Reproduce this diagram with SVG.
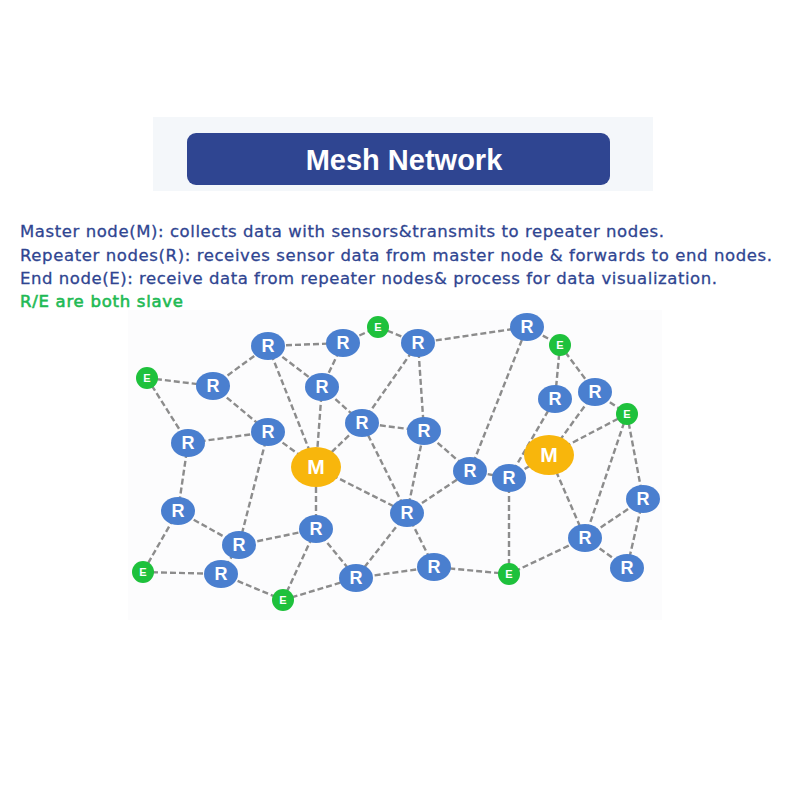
<svg xmlns="http://www.w3.org/2000/svg" width="800" height="800" viewBox="0 0 800 800">
<style>
.bg{fill:#ffffff}
.hdrbg{fill:#f4f7fa}
.hdr{fill:#2f4591}
.title{font-family:"Liberation Sans",Arial,sans-serif;font-weight:bold;font-size:29px;fill:#ffffff}
.desc{font-family:"DejaVu Sans","Liberation Sans",sans-serif;font-size:16.5px;fill:#2f4591;stroke:#2f4591;stroke-width:0.3}
.green{fill:#1fba55;stroke:#1fba55;stroke-width:0.6}
.e{stroke:#8c8c8c;stroke-width:2.4;stroke-dasharray:6 3;fill:none}
.R ellipse{fill:#4a7fcf}
.E circle{fill:#1ec13c}
.M ellipse{fill:#f8b60c}
.lbl{font-family:"Liberation Sans",Arial,sans-serif;font-weight:bold;fill:#ffffff;text-anchor:middle}
.R text{font-size:18px}
.E text{font-size:11px}
.M text{font-size:21px}
</style>
<rect class="bg" x="0" y="0" width="800" height="800"/>
<rect class="hdrbg" x="153" y="117" width="500" height="74"/>
<rect class="hdr" x="187" y="133" width="423" height="52" rx="9"/>
<text class="title" x="404" y="170" text-anchor="middle">Mesh Network</text>
<text class="desc" x="20" y="237" textLength="644">Master node(M): collects data with sensors&amp;transmits to repeater nodes.</text>
<text class="desc" x="20" y="261" textLength="752">Repeater nodes(R): receives sensor data from master node &amp; forwards to end nodes.</text>
<text class="desc" x="20" y="284" textLength="697">End node(E): receive data from repeater nodes&amp; process for data visualization.</text>
<text class="desc green" x="20" y="307" textLength="163">R/E are both slave</text>
<rect x="128" y="310" width="534" height="310" fill="#fcfcfd"/>
<g id="connectors" class="e">
<line x1="147" y1="378" x2="213" y2="386"/>
<line x1="147" y1="378" x2="188" y2="443"/>
<line x1="213" y1="386" x2="268" y2="346"/>
<line x1="213" y1="386" x2="268" y2="432"/>
<line x1="268" y1="346" x2="343" y2="343"/>
<line x1="268" y1="346" x2="322" y2="387"/>
<line x1="268" y1="346" x2="316" y2="467"/>
<line x1="343" y1="343" x2="378" y2="327"/>
<line x1="343" y1="343" x2="322" y2="387"/>
<line x1="322" y1="387" x2="316" y2="467"/>
<line x1="322" y1="387" x2="362" y2="423"/>
<line x1="362" y1="423" x2="316" y2="467"/>
<line x1="268" y1="432" x2="316" y2="467"/>
<line x1="268" y1="432" x2="188" y2="443"/>
<line x1="268" y1="432" x2="239" y2="545"/>
<line x1="188" y1="443" x2="178" y2="511"/>
<line x1="178" y1="511" x2="239" y2="545"/>
<line x1="178" y1="511" x2="143" y2="572"/>
<line x1="143" y1="572" x2="221" y2="574"/>
<line x1="221" y1="574" x2="239" y2="545"/>
<line x1="221" y1="574" x2="283" y2="600"/>
<line x1="283" y1="600" x2="316" y2="529"/>
<line x1="283" y1="600" x2="356" y2="578"/>
<line x1="316" y1="529" x2="316" y2="467"/>
<line x1="316" y1="529" x2="239" y2="545"/>
<line x1="316" y1="529" x2="356" y2="578"/>
<line x1="316" y1="467" x2="407" y2="513"/>
<line x1="407" y1="513" x2="356" y2="578"/>
<line x1="407" y1="513" x2="434" y2="567"/>
<line x1="407" y1="513" x2="362" y2="423"/>
<line x1="407" y1="513" x2="424" y2="431"/>
<line x1="407" y1="513" x2="470" y2="471"/>
<line x1="362" y1="423" x2="418" y2="343"/>
<line x1="362" y1="423" x2="424" y2="431"/>
<line x1="418" y1="343" x2="424" y2="431"/>
<line x1="418" y1="343" x2="378" y2="327"/>
<line x1="418" y1="343" x2="527" y2="327"/>
<line x1="424" y1="431" x2="470" y2="471"/>
<line x1="470" y1="471" x2="527" y2="327"/>
<line x1="470" y1="471" x2="509" y2="478"/>
<line x1="509" y1="478" x2="549" y2="455"/>
<line x1="509" y1="478" x2="555" y2="399"/>
<line x1="509" y1="478" x2="509" y2="574"/>
<line x1="549" y1="455" x2="627" y2="414"/>
<line x1="549" y1="455" x2="595" y2="392"/>
<line x1="549" y1="455" x2="585" y2="538"/>
<line x1="527" y1="327" x2="560" y2="345"/>
<line x1="560" y1="345" x2="555" y2="399"/>
<line x1="560" y1="345" x2="595" y2="392"/>
<line x1="595" y1="392" x2="627" y2="414"/>
<line x1="627" y1="414" x2="585" y2="538"/>
<line x1="627" y1="414" x2="643" y2="499"/>
<line x1="643" y1="499" x2="585" y2="538"/>
<line x1="643" y1="499" x2="627" y2="568"/>
<line x1="585" y1="538" x2="627" y2="568"/>
<line x1="585" y1="538" x2="509" y2="574"/>
<line x1="509" y1="574" x2="434" y2="567"/>
<line x1="434" y1="567" x2="356" y2="578"/>
</g>
<g id="nodes">
<g id="E1" class="E"><circle cx="147" cy="378" r="11"/><text class="lbl" x="147" y="382">E</text></g>
<g id="E2" class="E"><circle cx="378" cy="327" r="11"/><text class="lbl" x="378" y="331">E</text></g>
<g id="E3" class="E"><circle cx="560" cy="345" r="11"/><text class="lbl" x="560" y="349">E</text></g>
<g id="E4" class="E"><circle cx="627" cy="414" r="11"/><text class="lbl" x="627" y="418">E</text></g>
<g id="E5" class="E"><circle cx="143" cy="572" r="11"/><text class="lbl" x="143" y="576">E</text></g>
<g id="E6" class="E"><circle cx="283" cy="600" r="11"/><text class="lbl" x="283" y="604">E</text></g>
<g id="E7" class="E"><circle cx="509" cy="574" r="11"/><text class="lbl" x="509" y="578">E</text></g>
<g id="M1" class="M"><ellipse cx="316" cy="467" rx="25" ry="20"/><text class="lbl" x="316" y="474">M</text></g>
<g id="M2" class="M"><ellipse cx="549" cy="455" rx="25" ry="20"/><text class="lbl" x="549" y="462">M</text></g>
<g id="R1" class="R"><ellipse cx="213" cy="386" rx="17" ry="14"/><text class="lbl" x="213" y="392">R</text></g>
<g id="R2" class="R"><ellipse cx="268" cy="346" rx="17" ry="14"/><text class="lbl" x="268" y="352">R</text></g>
<g id="R3" class="R"><ellipse cx="343" cy="343" rx="17" ry="14"/><text class="lbl" x="343" y="349">R</text></g>
<g id="R4" class="R"><ellipse cx="322" cy="387" rx="17" ry="14"/><text class="lbl" x="322" y="393">R</text></g>
<g id="R5" class="R"><ellipse cx="418" cy="343" rx="17" ry="14"/><text class="lbl" x="418" y="349">R</text></g>
<g id="R6" class="R"><ellipse cx="527" cy="327" rx="17" ry="14"/><text class="lbl" x="527" y="333">R</text></g>
<g id="R7" class="R"><ellipse cx="188" cy="443" rx="17" ry="14"/><text class="lbl" x="188" y="449">R</text></g>
<g id="R8" class="R"><ellipse cx="268" cy="432" rx="17" ry="14"/><text class="lbl" x="268" y="438">R</text></g>
<g id="R9" class="R"><ellipse cx="362" cy="423" rx="17" ry="14"/><text class="lbl" x="362" y="429">R</text></g>
<g id="R10" class="R"><ellipse cx="424" cy="431" rx="17" ry="14"/><text class="lbl" x="424" y="437">R</text></g>
<g id="R11" class="R"><ellipse cx="470" cy="471" rx="17" ry="14"/><text class="lbl" x="470" y="477">R</text></g>
<g id="R12" class="R"><ellipse cx="509" cy="478" rx="17" ry="14"/><text class="lbl" x="509" y="484">R</text></g>
<g id="R13" class="R"><ellipse cx="555" cy="399" rx="17" ry="14"/><text class="lbl" x="555" y="405">R</text></g>
<g id="R14" class="R"><ellipse cx="595" cy="392" rx="17" ry="14"/><text class="lbl" x="595" y="398">R</text></g>
<g id="R15" class="R"><ellipse cx="178" cy="511" rx="17" ry="14"/><text class="lbl" x="178" y="517">R</text></g>
<g id="R16" class="R"><ellipse cx="239" cy="545" rx="17" ry="14"/><text class="lbl" x="239" y="551">R</text></g>
<g id="R17" class="R"><ellipse cx="316" cy="529" rx="17" ry="14"/><text class="lbl" x="316" y="535">R</text></g>
<g id="R18" class="R"><ellipse cx="407" cy="513" rx="17" ry="14"/><text class="lbl" x="407" y="519">R</text></g>
<g id="R19" class="R"><ellipse cx="643" cy="499" rx="17" ry="14"/><text class="lbl" x="643" y="505">R</text></g>
<g id="R20" class="R"><ellipse cx="585" cy="538" rx="17" ry="14"/><text class="lbl" x="585" y="544">R</text></g>
<g id="R21" class="R"><ellipse cx="221" cy="574" rx="17" ry="14"/><text class="lbl" x="221" y="580">R</text></g>
<g id="R22" class="R"><ellipse cx="356" cy="578" rx="17" ry="14"/><text class="lbl" x="356" y="584">R</text></g>
<g id="R23" class="R"><ellipse cx="434" cy="567" rx="17" ry="14"/><text class="lbl" x="434" y="573">R</text></g>
<g id="R24" class="R"><ellipse cx="627" cy="568" rx="17" ry="14"/><text class="lbl" x="627" y="574">R</text></g>
</g>
</svg>
